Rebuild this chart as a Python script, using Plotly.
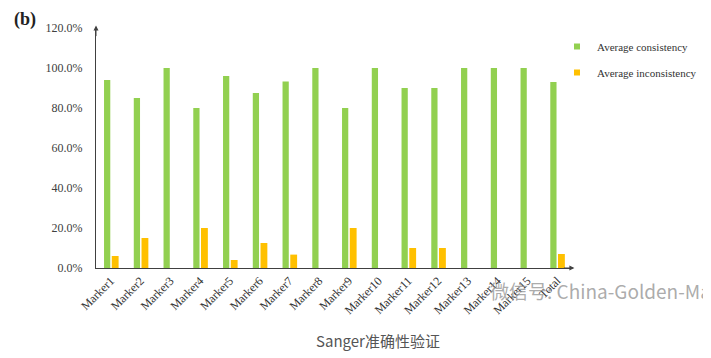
import plotly.graph_objects as go

categories = ["Marker1", "Marker2", "Marker3", "Marker4", "Marker5", "Marker6", "Marker7", "Marker8",
              "Marker9", "Marker10", "Marker11", "Marker12", "Marker13", "Marker14", "Marker15", "Total"]
consistency = [94.0, 85.0, 100.0, 80.0, 96.0, 87.5, 93.3, 100.0, 80.0, 100.0, 90.0, 90.0, 100.0, 100.0, 100.0, 93.0]
inconsistency = [6.0, 15.0, 0.0, 20.0, 4.0, 12.5, 6.7, 0.0, 20.0, 0.0, 10.0, 10.0, 0.0, 0.0, 0.0, 7.0]
series_names = ["Average consistency", "Average inconsistency"]
series_colors = ["#92D050", "#FFC000"]
y_ticks = [0, 20, 40, 60, 80, 100, 120]
y_tick_labels = ["0.0%", "20.0%", "40.0%", "60.0%", "80.0%", "100.0%", "120.0%"]

# the page body adds an 8px margin, so the figure is 8px smaller and all positions shifted
OFF = 8
W, H = 711 - OFF, 358 - OFF
L, R, T, B = 96 - OFF, 711 - 572, 28 - OFF, 358 - 268
PW, PH = W - L - R, H - T - B


def px_x(x):  # page pixel -> paper x
    return (x - OFF - L) / PW


def px_y(y):  # page pixel -> paper y
    return 1 - (y - OFF - T) / PH


serif = "Liberation Serif, Times New Roman, serif"
fig = go.Figure()
fig.add_trace(go.Bar(x=categories, y=consistency, name=series_names[0], showlegend=False,
                     marker=dict(color=series_colors[0], line=dict(width=0)), width=0.21, offset=-0.23))
fig.add_trace(go.Bar(x=categories, y=inconsistency, name=series_names[1], showlegend=False,
                     marker=dict(color=series_colors[1], line=dict(width=0)), width=0.23, offset=0.03))
# legend entries with small square markers
for i, (nm, col) in enumerate(zip(series_names, series_colors)):
    fig.add_trace(go.Scatter(x=[None], y=[None], mode="markers", name=nm, legendgroup=f"g{i}",
                             marker=dict(symbol="square", size=6, color=col)))

fig.update_layout(
    width=W, height=H, margin=dict(l=L, r=R, t=T, b=B, autoexpand=False),
    paper_bgcolor="white", plot_bgcolor="white",
    font=dict(family=serif, size=11, color="#404040"),
    showlegend=True,
    legend=dict(xref="container", yref="container", x=549 / W, y=1 - 24 / H, xanchor="left", yanchor="top",
                font=dict(family=serif, size=11, color="#333"), traceorder="grouped",
                itemwidth=30, tracegroupgap=7, bgcolor="rgba(0,0,0,0)"),
    barmode="overlay",
    xaxis=dict(tickangle=-45, showline=True, linecolor="#404040", linewidth=1, ticks="",
               tickfont=dict(family=serif, size=12, color="#333"), showgrid=False,
               range=[-0.5, 15.5], automargin=False),
    yaxis=dict(range=[0, 120], tickvals=y_ticks, ticktext=y_tick_labels, showline=True,
               linecolor="#404040", linewidth=1, showgrid=False, zeroline=False, ticks="",
               tickfont=dict(family=serif, size=12, color="#404040"), ticklabelstandoff=10,
               automargin=False),
)

# axis arrows
fig.add_annotation(xref="paper", yref="paper", x=0, y=1.01, ax=0, ay=12, showarrow=True,
                   arrowhead=2, arrowsize=1, arrowwidth=1, arrowcolor="#404040", text="")
fig.add_annotation(xref="paper", yref="paper", x=1.005, y=0, ax=-12, ay=0, showarrow=True,
                   arrowhead=2, arrowsize=1, arrowwidth=1, arrowcolor="#404040", text="")

# panel label
fig.add_annotation(xref="paper", yref="paper", x=px_x(12), y=px_y(20),
                   xanchor="left", yanchor="middle", showarrow=False,
                   text="<b>(b)</b>", font=dict(family=serif, size=18, color="#222"))

# caption
fig.add_annotation(xref="paper", yref="paper", x=px_x(378), y=px_y(340),
                   xanchor="center", yanchor="middle", showarrow=False,
                   text="Sanger准确性验证", font=dict(family="Noto Sans CJK SC", size=15, color="#555"))

# watermark
fig.add_annotation(xref="paper", yref="paper", x=px_x(488), y=px_y(290),
                   xanchor="left", yanchor="middle", showarrow=False,
                   text="微信号: China-Golden-Ma", font=dict(family="Noto Sans CJK SC", size=19, color="rgba(150,150,150,0.8)"))

fig.write_html("out.html")
